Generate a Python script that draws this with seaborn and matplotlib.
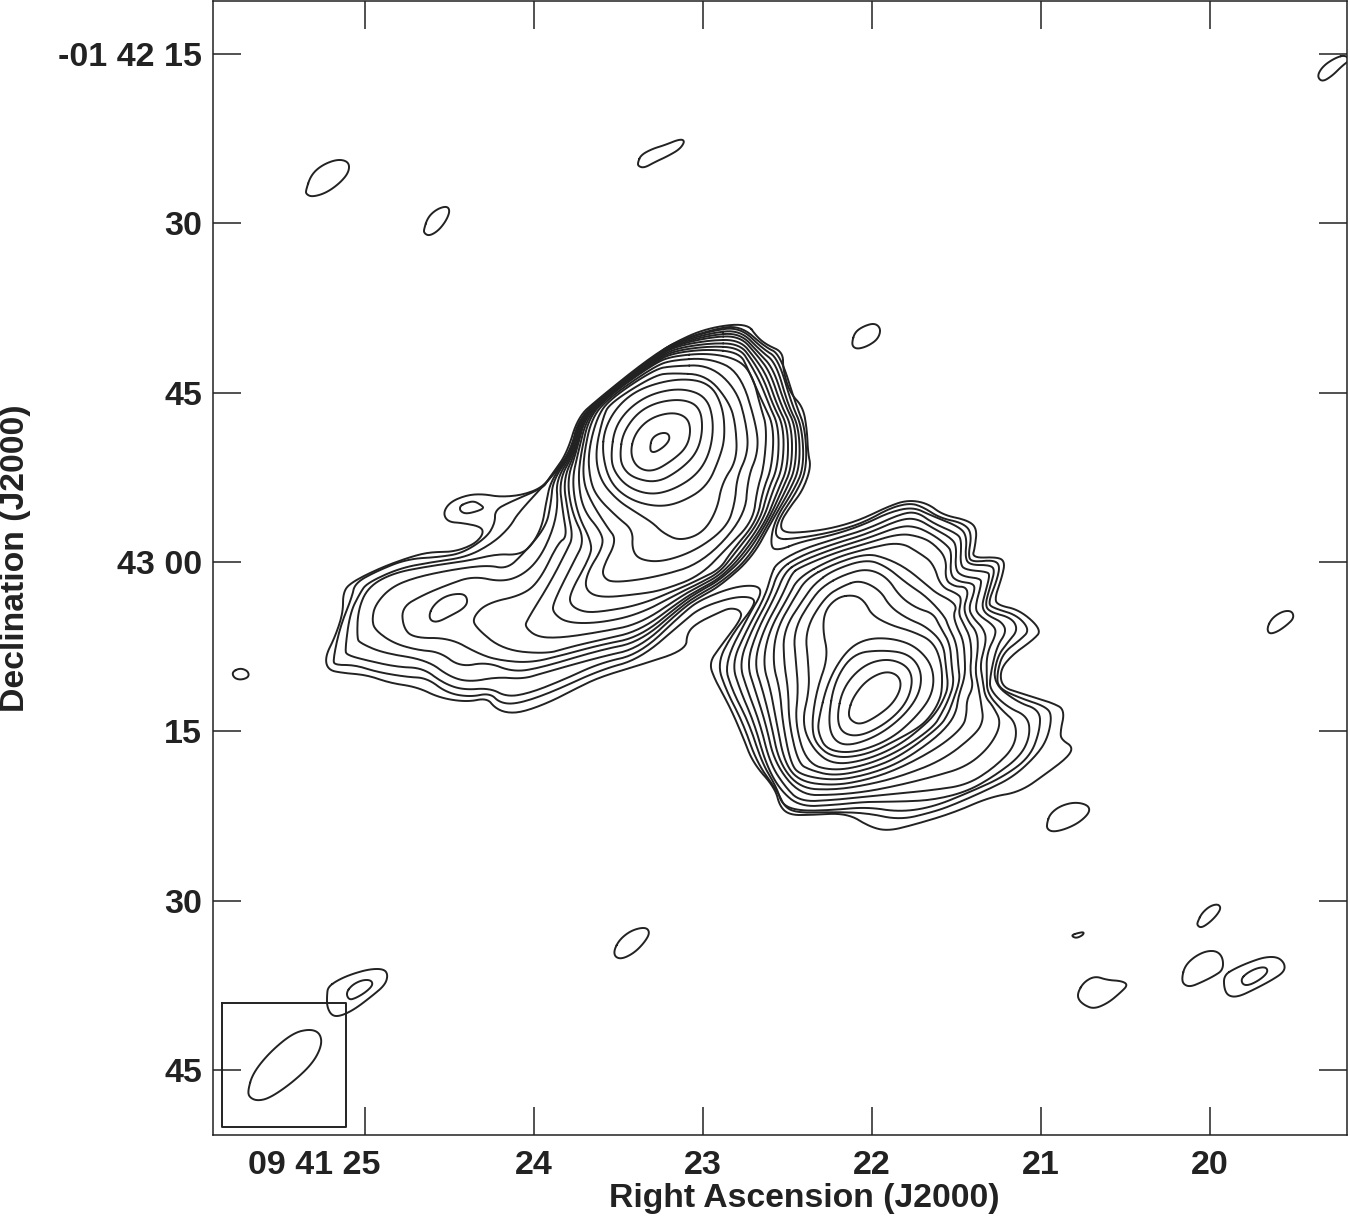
import numpy as np
import matplotlib
matplotlib.use('Agg')
import matplotlib.pyplot as plt
from matplotlib.transforms import ScaledTranslation
import seaborn as sns

# contours, as (column, row) on the map grid
outer_1 = [(747,323),(757,337),(767,345),(783,352),(783,370),(790,393),(803,407),(807,430),(808,453),(811,467),(803,490),(790,507),(780,523),(783,533),(807,532),(833,528),(860,520),(887,507),(907,500),(927,503),(943,515),(967,520),(977,528),(975,547),(972,558),(998,557),(1005,562),(1002,577),(995,597),(997,605),(1020,610),(1042,630),(1033,640),(1012,655),(1000,670),(1002,687),(1020,693),(1053,703),(1065,710),(1060,733),(1062,740),(1073,747),(1068,757),(1047,773),(1020,792),(990,797),(953,813),(913,825),(888,831),(870,827),(847,813),(810,815),(790,815),(780,807),(775,788),(753,763),(743,737),(730,707),(715,680),(709,663),(720,647),(742,618),(740,610),(730,608),(720,612),(697,623),(687,633),(686,650),(640,665),(600,677),(577,688),(550,702),(523,712),(507,713),(495,708),(487,698),(467,702),(440,698),(417,687),(390,683),(367,675),(343,673),(328,670),(325,657),(335,637),(343,613),(343,593),(350,583),(380,568),(410,557),(430,552),(453,552),(473,545),(483,535),(482,527),(463,523),(448,522),(443,513),(450,502),(467,495),(483,494),(500,497),(523,495),(543,487),(553,473),(567,453),(578,417),(597,400),(643,363),(673,343),(707,328)]
outer_2 = [(775,540),(800,538),(833,532),(863,523),(890,508),(910,503),(923,507),(940,518),(963,523),(972,533),(968,557),(973,562),(993,560),(1000,565),(997,580),(988,603),(993,608),(1017,615),(1030,630),(1020,640),(1003,653),(997,673),(998,688),(1020,698),(1047,707),(1052,717),(1047,740),(1035,757),(1013,777),(987,790),(953,805),(933,812),(900,820),(867,813),(833,812),(800,813),(785,808),(778,792),(757,763),(743,723),(726,690),(717,663),(733,633),(755,605),(753,597),(733,597),(700,608),(683,622),(640,659),(600,670),(550,693),(517,704),(500,703),(490,693),(470,697),(447,693),(427,678),(407,677),(377,672),(355,665),(335,665),(333,660),(340,627),(352,597),(355,583),(377,571),(407,559),(440,557),(463,553),(487,537),(495,523),(495,510),(510,502),(543,488),(548,480),(570,453),(579,417),(610,390),(655,356),(673,343),(710,330),(740,325),(765,347),(780,354),(796,405),(805,427),(807,467),(798,490),(777,521)]
outer_3 = [(780,550),(800,542),(833,535),(863,525),(890,512),(913,507),(930,515),(960,527),(967,537),(965,558),(970,565),(990,565),(995,570),(990,587),(985,605),(990,612),(1012,618),(1018,630),(1008,642),(997,657),(993,683),(1017,702),(1040,710),(1040,730),(1030,757),(1003,777),(970,792),(933,807),(900,812),(867,807),(833,810),(800,811),(782,805),(777,788),(762,763),(749,723),(732,690),(724,663),(750,613),(762,593),(757,585),(733,587),(700,600),(683,613),(640,654),(600,663),(563,680),(530,693),(507,697),(490,688),(463,690),(443,683),(423,668),(397,667),(365,660),(347,655),(345,650),(350,613),(360,593),(367,583),(400,568),(433,562),(467,557),(493,543),(510,527),(518,513),(549,480),(571,453),(580,417),(610,390),(655,356),(673,343),(710,331),(740,327),(763,349),(778,358),(792,405),(802,427),(804,467),(794,490),(774,521),(770,548)]

east_16 = [(710,333),(740,330),(761,351),(776,363),(788,405),(799,427),(800,467),(790,490),(772,521),(752,558),(720,586),(700,597),(683,608),(640,648),(600,657),(543,673),(523,679),(497,677),(470,682),(450,677),(427,660),(383,653),(360,643),(357,638),(358,610),(368,587),(393,573),(430,566),(467,561),(497,554),(517,555),(530,548),(542,527),(546,503),(551,480),(571,453),(581,417),(610,391),(655,357),(673,344)]
east_15 = [(710,335),(740,333),(759,353),(773,368),(785,405),(796,427),(796,467),(786,490),(770,521),(748,559),(720,583),(700,594),(683,605),(640,642),(600,650),(540,668),(513,672),(487,662),(460,667),(440,652),(417,650),(393,643),(375,630),(372,620),(375,605),(390,588),(413,578),(450,570),(487,565),(507,569),(523,554),(546,527),(551,503),(553,480),(572,453),(581,417),(610,391),(655,358),(673,345)]
east_14 = [(710,337),(740,336),(757,355),(770,372),(781,405),(792,427),(792,467),(782,490),(768,521),(745,557),(720,580),(700,591),(683,602),(640,637),(600,645),(563,655),(530,663),(497,660),(477,653),(450,638),(413,638),(403,627),(402,607),(423,595),(447,585),(473,576),(502,582),(523,575),(540,558),(553,530),(558,505),(556,480),(573,453),(582,417),(610,391),(655,358),(673,346)]
east_13 = [(710,340),(740,340),(755,358),(767,376),(777,405),(788,427),(788,467),(778,490),(766,521),(742,556),(720,578),(700,589),(683,599),(640,631),(600,640),(570,647),(547,654),(503,650),(475,627),(473,617),(487,603),(523,595),(540,580),(558,543),(567,537),(563,513),(559,480),(574,453),(583,417),(610,392),(655,359),(673,347)]
east_12 = [(710,343),(740,344),(753,361),(764,380),(773,405),(784,427),(783,467),(773,490),(763,521),(739,555),(720,575),(700,586),(683,595),(640,624),(600,632),(560,638),(537,637),(525,627),(527,620),(550,583),(567,550),(573,537),(568,513),(563,480),(575,453),(584,417),(610,392),(655,360),(673,349)]
east_11 = [(710,346),(740,348),(751,365),(761,384),(769,405),(779,427),(778,467),(768,490),(760,521),(735,553),(720,572),(700,583),(683,591),(640,614),(600,623),(567,623),(553,613),(553,603),(573,563),(585,540),(572,513),(567,480),(576,453),(585,417),(610,393),(655,361),(673,351)]
east_10 = [(710,349),(740,353),(748,369),(756,388),(764,405),(774,427),(772,467),(763,490),(757,521),(731,552),(720,569),(700,579),(683,587),(640,605),(600,612),(583,612),(570,605),(570,593),(590,557),(592,543),(577,513),(572,480),(578,453),(587,417),(610,394),(655,362),(673,353)]
east_9 = [(673,356),(710,353),(740,360),(753,377),(760,405),(767,427),(764,467),(757,490),(753,521),(727,548),(700,576),(663,590),(640,594),(600,598),(585,590),(587,573),(603,547),(602,533),(583,510),(578,480),(581,453),(589,417),(610,395),(655,363)]
east_8 = [(673,360),(710,358),(740,372),(757,427),(758,453),(748,477),(745,517),(703,563),(657,577),(613,583),(603,577),(603,567),(617,540),(607,527),(590,500),(583,480),(584,453),(592,417),(610,397),(655,366)]
east_7 = [(673,366),(710,365),(737,390),(747,427),(748,453),(737,477),(735,503),(727,527),(697,550),(663,562),(640,560),(632,550),(633,530),(617,517),(597,497),(590,480),(588,453),(597,417),(610,399),(655,369)]
east_6 = [(673,373),(707,375),(730,403),(736,427),(737,460),(722,483),(717,510),(703,533),(680,541),(663,533),(653,523),(637,513),(617,500),(600,480),(595,453),(603,417),(610,403),(655,375)]
east_5 = [(602,453),(605,427),(620,403),(643,387),(680,378),(710,383),(723,407),(725,437),(720,457),(707,487),(680,503),(657,507),(630,500),(610,483)]
east_4 = [(611,453),(615,427),(630,407),(653,393),(683,388),(707,397),(714,423),(710,453),(697,475),(673,490),(650,495),(627,487),(613,470)]
east_3 = [(620,453),(623,433),(637,413),(657,402),(683,399),(700,407),(703,430),(697,453),(680,470),(657,483),(633,478),(622,467)]
east_2 = [(630,453),(635,433),(650,418),(672,412),(687,417),(691,430),(687,447),(673,460),(653,472),(637,468)]
east_1 = [(650,447),(652,438),(660,433),(668,433),(670,439),(665,446),(656,452),(651,452)]
tail_knot = [(429,615),(433,606),(442,598),(453,594),(465,594),(468,602),(463,609),(450,616),(438,622),(431,621)]
tail_loop = [(460,506),(466,503),(474,501),(481,505),(484,508),(478,511),(466,514),(460,511)]

# west lobe, read on its own finer sub-grid (3 cells per map cell, origin at column 700, row 490)
west_4 = [(215,250),(230,220),(300,180),(400,148),(500,118),(600,72),(650,65),(700,100),(770,130),(785,150),(780,225),(800,240),(860,245),(870,255),(855,310),(845,350),(860,375),(905,395),(920,425),(890,470),(870,560),(870,600),(920,650),(985,680),(990,740),(960,800),(880,860),(800,905),(700,930),(600,935),(500,935),(400,945),(300,950),(240,900),(197,820),(163,700),(120,600),(95,520),(140,420),(195,320)]
west_5 = [(235,240),(300,198),(400,162),(500,132),(600,88),(650,85),(700,115),(755,145),(770,170),(765,240),(790,260),(840,265),(845,280),(825,350),(835,375),(880,405),(890,430),(860,490),(860,560),(862,610),(905,660),(950,700),(945,770),(880,835),(800,885),(700,900),(600,910),(500,920),(400,930),(300,935),(255,890),(210,820),(180,700),(142,600),(117,520),(155,420),(210,320)]
west_6 = [(255,245),(300,215),(400,176),(500,146),(600,108),(650,110),(700,135),(740,165),(755,185),(750,255),(775,275),(820,280),(825,300),(805,355),(820,385),(850,415),(860,450),(840,520),(848,570),(855,620),(880,650),(905,700),(870,770),(800,830),(700,860),(600,885),(500,905),(400,915),(300,915),(224,820),(197,700),(165,600),(140,520),(172,420),(225,320)]
west_7 = [(275,250),(300,232),(400,190),(500,160),(600,130),(660,140),(700,160),(740,205),(735,270),(765,290),(795,290),(805,310),(790,355),(805,395),(830,425),(835,470),(825,540),(835,590),(845,650),(850,690),(830,730),(730,810),(600,860),(500,885),(400,900),(300,895),(238,820),(213,700),(188,600),(162,520),(190,420),(245,320)]
west_8 = [(295,262),(400,205),(500,176),(600,155),(660,190),(700,220),(722,290),(770,310),(785,325),(775,370),(790,400),(810,440),(815,490),(810,545),(820,590),(800,630),(800,670),(790,710),(720,770),(600,835),(500,870),(400,887),(300,875),(254,820),(230,700),(212,600),(188,520),(208,420),(265,320)]
west_9 = [(320,265),(400,222),(500,190),(560,205),(620,235),(680,285),(710,310),(750,330),(770,350),(760,375),(770,410),(790,450),(795,510),(795,560),(775,620),(770,660),(750,700),(700,750),(600,818),(500,855),(400,872),(300,855),(272,820),(248,700),(240,600),(218,520),(228,420),(285,320)]
west_10 = [(345,280),(400,240),(500,207),(560,230),(620,280),(680,320),(735,380),(745,410),(770,460),(775,530),(780,570),(760,630),(745,670),(720,710),(600,800),(500,840),(400,858),(330,840),(295,820),(267,700),(265,600),(252,520),(250,420),(315,320)]
west_11 = [(375,285),(430,255),(500,235),(560,260),(600,320),(650,355),(700,370),(720,410),(750,460),(755,530),(762,580),(745,630),(725,670),(700,712),(600,782),(500,825),(400,843),(320,820),(285,700),(295,600),(288,520),(280,420),(340,320)]
west_12 = [(430,287),(480,270),(540,300),(570,350),(620,385),(680,410),(730,460),(738,530),(745,590),(730,630),(710,665),(680,700),(600,765),(500,810),(400,825),(340,780),(305,700),(328,600),(325,520),(315,420),(375,320)]
west_13 = [(415,320),(465,315),(495,335),(515,375),(570,405),(640,425),(700,455),(725,520),(727,600),(715,640),(690,680),(660,710),(600,745),(500,795),(400,805),(345,760),(335,700),(350,600),(385,500),(368,420),(375,360)]
west_14 = [(355,690),(385,570),(440,480),(500,445),(580,445),(650,470),(700,530),(700,610),(650,680),(570,750),(460,790),(380,780),(355,730)]
west_15 = [(385,680),(405,570),(460,490),(545,480),(625,490),(665,540),(660,610),(610,680),(530,740),(440,770),(395,745)]
west_16 = [(410,680),(430,590),(490,525),(560,505),(620,525),(640,570),(620,640),(560,700),(480,740),(425,730)]
west_17 = [(445,665),(460,620),(500,570),(555,543),(595,555),(605,590),(580,640),(530,680),(480,705),(450,690)]

# weak isolated sources
spot_a = [(1345,55),(1335,58),(1323,66),(1317,76),(1322,82),(1332,76),(1342,66),(1350,60)]
spot_b = [(306,190),(311,175),(322,165),(338,159),(349,162),(349,172),(340,183),(326,193),(312,197),(306,194)]
spot_c = [(424,229),(428,217),(437,209),(447,206),(450,211),(446,221),(438,231),(429,236),(424,233)]
spot_d = [(638,162),(641,155),(652,149),(665,145),(680,139),(685,141),(680,149),(668,156),(655,162),(644,168),(638,166)]
spot_e = [(852,342),(855,332),(864,326),(875,323),(881,329),(878,339),(868,346),(858,349),(853,347)]
spot_f = [(1267,628),(1272,618),(1283,611),(1292,611),(1294,618),(1287,625),(1277,632),(1269,634)]
spot_g = [(232,672),(240,668),(248,671),(249,677),(241,680),(234,678)]
spot_h = [(1047,823),(1050,814),(1060,806),(1075,802),(1088,805),(1090,812),(1080,822),(1066,829),(1053,832),(1047,829)]
spot_i = [(1072,935),(1078,933),(1084,932),(1083,935),(1077,938),(1073,937)]
spot_j = [(1198,921),(1202,913),(1210,906),(1218,904),(1221,908),(1217,915),(1209,923),(1201,928),(1197,925)]
spot_k = [(1182,977),(1185,966),(1194,957),(1206,951),(1217,951),(1223,958),(1223,970),(1214,976),(1202,982),(1190,987),(1183,984)]
spot_l = [(1224,975),(1236,968),(1250,962),(1265,957),(1278,957),(1285,964),(1284,972),(1272,980),(1255,989),(1238,997),(1228,996),(1224,988)]
spot_m = [(1241,979),(1247,973),(1257,968),(1266,967),(1268,972),(1261,979),(1250,985),(1243,985)]
spot_n = [(1078,992),(1084,982),(1095,976),(1107,980),(1122,981),(1128,985),(1120,993),(1108,1003),(1094,1009),(1084,1005),(1078,999)]
spot_o = [(614,950),(620,939),(632,930),(646,927),(650,933),(644,943),(634,953),(622,959),(615,957)]
spot_p = [(328,987),(338,980),(352,974),(370,969),(384,969),(388,975),(385,985),(372,996),(355,1009),(341,1016),(332,1016),(327,1007),(327,995)]
spot_q = [(346,993),(352,985),(362,980),(371,980),(373,985),(366,992),(356,998),(349,1000)]

beam = [(248,1090),(253,1073),(270,1052),(293,1033),(310,1029),(320,1033),(322,1045),(313,1063),(293,1082),(270,1098),(257,1101),(249,1097)]
beam_box = [(222,1003),(346,1003),(346,1127),(222,1127),(222,1003)]

ra_ticks = [25, 24, 23, 22, 21, 20]
ra_labels = ['09 41 25', '24', '23', '22', '21', '20']
dec_ticks = [45, 30, 15, 0, -15, -30, -45]
dec_labels = ['-01 42 15', '30', '45', '43 00', '15', '30', '45']

INK = '#222222'


# map grid to sky: seconds of RA after 09 41, arcsec from -01 43 00
def to_ra(col):
    return 25 - (np.asarray(col, dtype=float) - 365) / 169


def to_dec(row):
    return -(np.asarray(row, dtype=float) - 562) / 11.29


def rounded(pts, closed=True):
    # corner cutting, the contours are smooth curves on the map
    p = np.array(pts, dtype=float)
    if not closed:
        return p
    for i in range(3):
        q = np.roll(p, -1, axis=0)
        p = np.column_stack([0.75 * p + 0.25 * q, 0.25 * p + 0.75 * q]).reshape(-1, 2)
    return np.vstack([p, p[0]])


def draw(ax, pts, closed=True, lw=1.4):
    p = rounded(pts, closed)
    sns.lineplot(x=to_ra(p[:, 0]), y=to_dec(p[:, 1]), sort=False, estimator=None,
                 color=INK, linewidth=lw, legend=False, ax=ax)


def from_west(pts):
    return [(700 + x / 3, 490 + y / 3) for x, y in pts]


sns.set_style('ticks')
plt.rcParams['font.family'] = ['Liberation Sans', 'DejaVu Sans']
plt.rcParams['font.weight'] = 'bold'

fig = plt.figure(figsize=(13.5, 12.19), dpi=100)
ax = fig.add_axes([213 / 1350, (1219 - 1135) / 1219, 1134 / 1350, 1134 / 1219])

main = [outer_1, outer_2, outer_3, east_16, east_15, east_14, east_13, east_12, east_11,
        east_10, east_9, east_8, east_7, east_6, east_5, east_4, east_3, east_2, east_1,
        tail_knot, tail_loop]
west = [west_4, west_5, west_6, west_7, west_8, west_9, west_10, west_11, west_12,
        west_13, west_14, west_15, west_16, west_17]
spots = [spot_a, spot_b, spot_c, spot_d, spot_e, spot_f, spot_g, spot_h, spot_i,
         spot_j, spot_k, spot_l, spot_m, spot_n, spot_o, spot_p, spot_q]

for c in main + spots:
    draw(ax, c)
for c in west:
    draw(ax, from_west(c))
draw(ax, beam)
draw(ax, beam_box, closed=False, lw=1.4)

ax.set_xlim(to_ra(213), to_ra(1347))
ax.set_ylim(to_dec(1135), to_dec(1))
ax.set_xticks(ra_ticks)
ax.set_xticklabels(ra_labels)
ax.set_yticks(dec_ticks)
ax.set_yticklabels(dec_labels)
ax.tick_params(direction='in', length=20, width=1.1, color=INK, top=True, right=True,
               labelsize=24.5, labelcolor=INK)
ax.tick_params(axis='x', pad=11)
ax.tick_params(axis='y', pad=8)
for s in ax.spines.values():
    s.set_visible(True)
    s.set_linewidth(1.1)
    s.set_color(INK)

# RA label: only the seconds sit under the tick
first = ax.get_xticklabels()[0]
first.set_ha('right')
first.set_transform(first.get_transform() + ScaledTranslation(0.16, 0, fig.dpi_scale_trans))

ax.set_xlabel('Right Ascension (J2000)', fontsize=24.3, fontweight='bold', color=INK, va='center')
ax.set_ylabel('Declination (J2000)', fontsize=24.3, fontweight='bold', color=INK, va='center')
ax.xaxis.set_label_coords(0.521, -0.0556)
ax.yaxis.set_label_coords(-0.1746, 0.509)

fig.savefig('out.png', dpi=100)
